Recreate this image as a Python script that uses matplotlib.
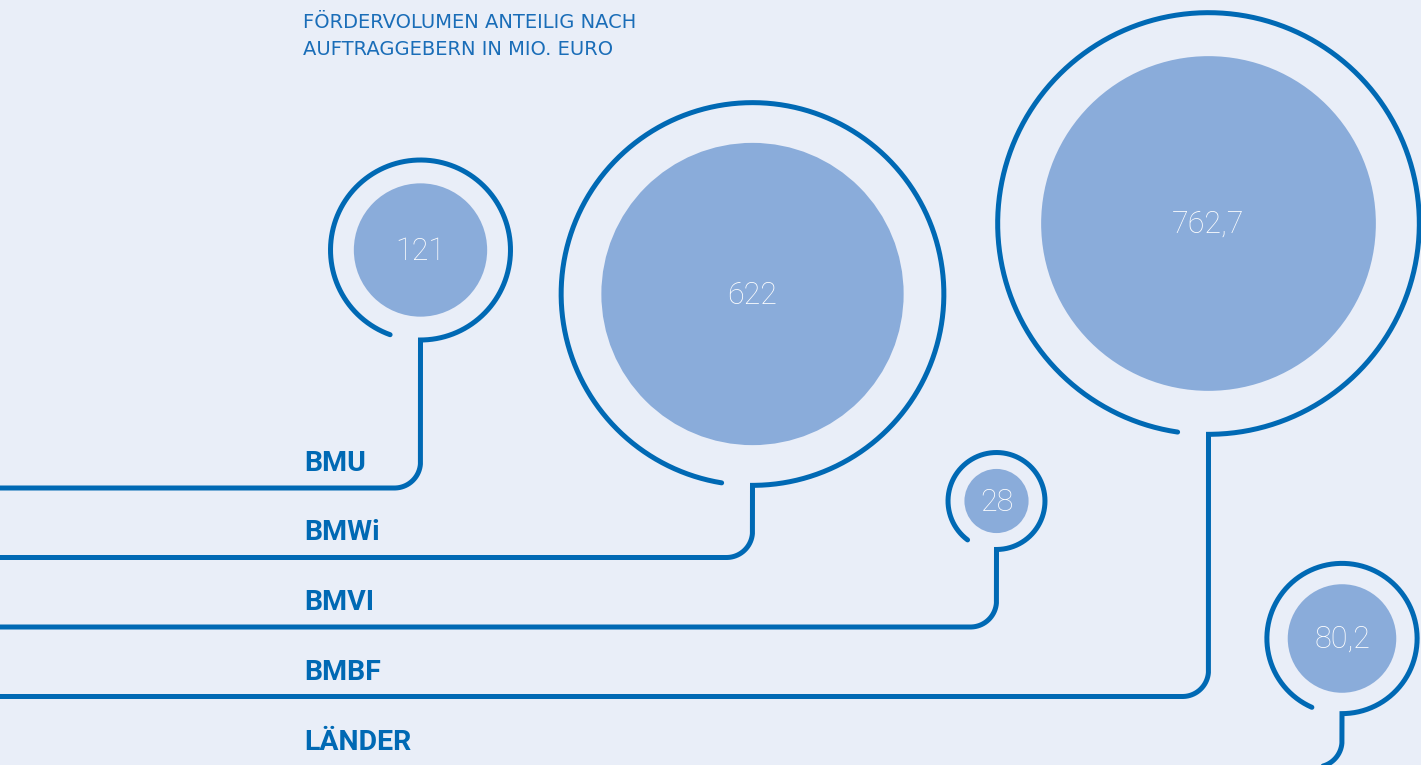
import numpy as np
import matplotlib.pyplot as plt
from matplotlib.patches import Circle

# data
labels = ['BMU', 'BMWi', 'BMVI', 'BMBF', 'LÄNDER']
values = [121, 622, 28, 762.7, 80.2]
value_text = ['121', '622', '28', '762,7', '80,2']
title_lines = ['FÖRDERVOLUMEN ANTEILIG NACH', 'AUFTRAGGEBERN IN MIO. EURO']

# layout in pixel units (y pointing down)
center_x = [420.5, 752.5, 996.5, 1208.5, 1342]
center_y = [250, 294, 501, 223.5, 638.5]
row_y = [488, 557.5, 627, 696.5, 767]

BG = '#e9eef8'
DARK = '#0069b4'
FILL = '#8aacda'
TITLE_C = '#1a6db8'

K = 6.06          # px per sqrt(value)
GAP = 31          # gap in the ring, px of arc length
RC = 26           # corner radius of the leader lines
LW = 3.6

fig = plt.figure(figsize=(14.21, 7.65), dpi=100)
fig.patch.set_facecolor(BG)
ax = fig.add_axes([0, 0, 1, 1])
ax.set_facecolor(BG)
ax.set_xlim(0, 1421)
ax.set_ylim(765, 0)
ax.axis('off')

for lab, v, txt, cx, cy, ry in zip(labels, values, value_text, center_x, center_y, row_y):
    r = K * np.sqrt(v)
    R = 1.2 * r + 10
    ax.add_patch(Circle((cx, cy), r, facecolor=FILL, edgecolor='none'))
    ax.text(cx, cy + 1, txt, ha='center', va='center', color='white',
            fontsize=22, family=['Roboto', 'DejaVu Sans'], fontweight='light')

    # ring open at the bottom, then leader line down and to the left
    t = np.linspace(np.pi / 2 + GAP / R, np.pi / 2 + 2 * np.pi, 500)
    xs = list(cx + R * np.cos(t))
    ys = list(cy + R * np.sin(t))
    a = np.linspace(0, np.pi / 2, 40)
    xs += list(cx - RC + RC * np.cos(a))
    ys += list(ry - RC + RC * np.sin(a))
    xs.append(-20)
    ys.append(ry)
    ax.plot(xs, ys, color=DARK, lw=LW, solid_capstyle='round',
            solid_joinstyle='miter', clip_on=False)

    ax.text(304, ry - 17, lab, ha='left', va='baseline', color=DARK,
            fontsize=20.5, fontweight='bold', family=['Roboto', 'DejaVu Sans'])

for i, line in enumerate(title_lines):
    ax.text(303, 28 + 27 * i, line, ha='left', va='baseline', color=TITLE_C,
            fontsize=14, family=['DejaVu Sans'])

fig.savefig('out.png', dpi=100, facecolor=BG)
